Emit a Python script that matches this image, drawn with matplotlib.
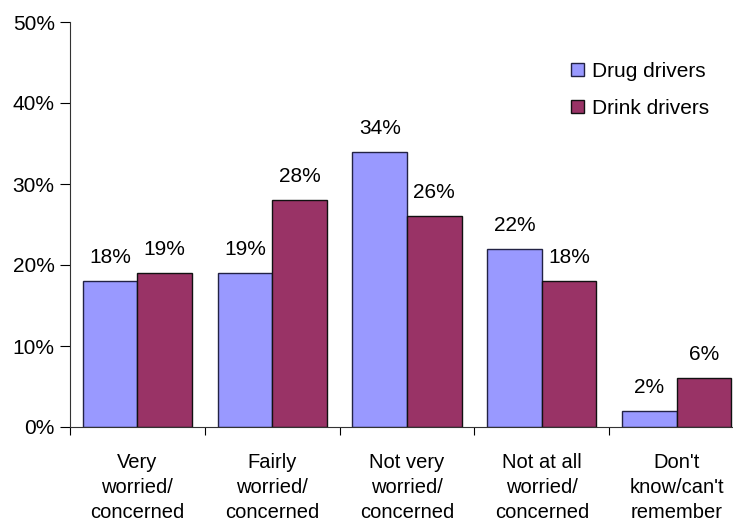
import matplotlib.pyplot as plt
import numpy as np

plt.rcParams['font.family'] = ['Liberation Sans', 'DejaVu Sans']

categories = ["Very\nworried/\nconcerned", "Fairly\nworried/\nconcerned",
              "Not very\nworried/\nconcerned", "Not at all\nworried/\nconcerned",
              "Don't\nknow/can't\nremember"]
drug = [18, 19, 34, 22, 2]
drink = [19, 28, 26, 18, 6]

fig = plt.figure(figsize=(7.33, 5.29), dpi=100)
ax = fig.add_axes([70 / 733, 102 / 529, 674 / 733, 405 / 529])

x = np.arange(len(categories))
w = 0.405
b1 = ax.bar(x - w / 2, drug, w, color='#9999FF', edgecolor='#222244', lw=1, label='Drug drivers')
b2 = ax.bar(x + w / 2, drink, w, color='#993366', edgecolor='#111111', lw=1, label='Drink drivers')

# value labels sit a fixed distance above each bar
for bars, vals in ((b1, drug), (b2, drink)):
    for r, v in zip(bars, vals):
        ax.annotate(f"{v}%", (r.get_x() + r.get_width() / 2, v), xytext=(0, 13),
                    textcoords='offset points', ha='center', va='baseline', fontsize=15)

ax.set_xlim(-0.5, 4.5)
ax.set_ylim(0, 50)
ax.set_yticks(range(0, 51, 10))
ax.set_yticklabels([f"{v}%" for v in range(0, 51, 10)], fontsize=15)
ax.set_xticks(np.arange(-0.5, 5, 1))
ax.set_xticklabels([])
ax.set_xticks(x, minor=True)
ax.set_xticklabels(categories, minor=True, fontsize=14.5, linespacing=1.38)
ax.tick_params(axis='x', which='minor', length=0, pad=19)
ax.tick_params(axis='x', which='major', length=6, direction='out')
ax.tick_params(axis='y', length=7, direction='out', pad=4)

for s in ('top', 'right'):
    ax.spines[s].set_visible(False)
ax.spines['left'].set_color('#333333')
ax.spines['bottom'].set_color('#333333')

ax.legend(loc='upper left', bbox_to_anchor=(0.716, 0.948), frameon=False, fontsize=15,
          handlelength=0.6, handleheight=0.6, handletextpad=0.4, labelspacing=0.85)

fig.savefig('out.png', dpi=100)
